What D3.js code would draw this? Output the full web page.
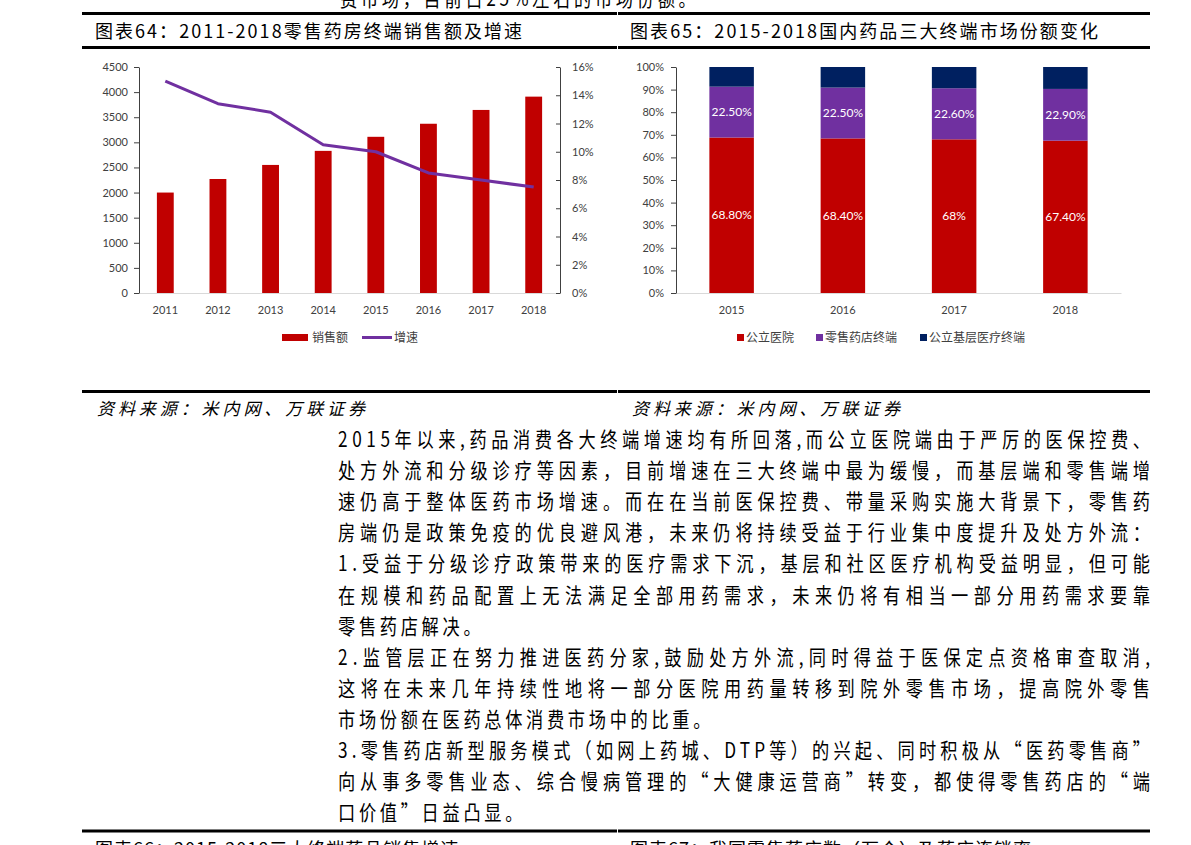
<!DOCTYPE html>
<html>
<head>
<meta charset="utf-8">
<script src="https://cdn.jsdelivr.net/npm/d3@7"></script>
<style>
  body { margin: 0; background: #fff; }
  svg { display: block; }
</style>
</head>
<body>
<script>
// Chart 64: retail pharmacy sales and growth
const salesYears = ["2011", "2012", "2013", "2014", "2015", "2016", "2017", "2018"];
const salesValues = [2000, 2270, 2550, 2830, 3110, 3370, 3645, 3910];
const growthValues = [0.15, 0.134, 0.128, 0.105, 0.1, 0.085, 0.08, 0.075];
const salesTicks = [0, 500, 1000, 1500, 2000, 2500, 3000, 3500, 4000, 4500];
const growthTicks = [0, 0.02, 0.04, 0.06, 0.08, 0.1, 0.12, 0.14, 0.16];

// Chart 65: market share of the three terminals
const shareYears = ["2015", "2016", "2017", "2018"];
const publicHospital = [68.8, 68.4, 68, 67.4];
const retailPharmacy = [22.5, 22.5, 22.6, 22.9];
const primaryCare = [8.7, 9.1, 9.4, 9.7];
const shareTicks = [0, 10, 20, 30, 40, 50, 60, 70, 80, 90, 100];
const shareNames = ["公立医院", "零售药店终端", "公立基层医疗终端"];

// Page text
const topTitles = ["图表64：2011-2018零售药房终端销售额及增速", "图表65：2015-2018国内药品三大终端市场份额变化"];
const bottomTitles = ["图表66：2015-2018三大终端药品销售增速", "图表67：我国零售药店数（万个）及药店连锁率"];
const sourceText = "资料来源：米内网、万联证券";
const cutLine = "费市场，目前占25%左右的市场份额。";
const bodyLines = [
  { text: "2015年以来,药品消费各大终端增速均有所回落,而公立医院端由于严厉的医保控费、", full: true },
  { text: "处方外流和分级诊疗等因素，目前增速在三大终端中最为缓慢，而基层端和零售端增", full: true },
  { text: "速仍高于整体医药市场增速。而在在当前医保控费、带量采购实施大背景下，零售药", full: true },
  { text: "房端仍是政策免疫的优良避风港，未来仍将持续受益于行业集中度提升及处方外流：", full: true },
  { text: "1.受益于分级诊疗政策带来的医疗需求下沉，基层和社区医疗机构受益明显，但可能", full: true },
  { text: "在规模和药品配置上无法满足全部用药需求，未来仍将有相当一部分用药需求要靠", full: true },
  { text: "零售药店解决。", full: false },
  { text: "2.监管层正在努力推进医药分家,鼓励处方外流,同时得益于医保定点资格审查取消,", full: true },
  { text: "这将在未来几年持续性地将一部分医院用药量转移到院外零售市场，提高院外零售", full: true },
  { text: "市场份额在医药总体消费市场中的比重。", full: false },
  { text: "3.零售药店新型服务模式（如网上药城、DTP等）的兴起、同时积极从“医药零售商”", full: true },
  { text: "向从事多零售业态、综合慢病管理的“大健康运营商”转变，都使得零售药店的“端", full: true },
  { text: "口价值”日益凸显。", full: false },
];

const numFont = "Lato, 'Noto Sans CJK SC', sans-serif";
const cjkFont = "'Noto Sans CJK SC', sans-serif";
const red = "#C00000", purple = "#7030A0", navy = "#002060";
const axisColor = "#404040", gridGrey = "#D9D9D9";

const svg = d3.select("body").append("svg").attr("width", 1191).attr("height", 845);

// Horizontal rules of the page table (split in two halves)
[12, 46, 390, 829.5].forEach((y) => {
  svg.append("rect").attr("x", 82).attr("y", y).attr("width", 535).attr("height", 3).attr("fill", "#000");
  svg.append("rect").attr("x", 618).attr("y", y).attr("width", 532).attr("height", 3).attr("fill", "#000");
});

// Chart titles
const titleX = [95, 630];
const titleLen = [427, 468];
topTitles.forEach((t, i) => {
  svg.append("text")
    .attr("x", titleX[i]).attr("y", 38)
    .attr("font-family", cjkFont).attr("font-size", 18)
    .attr("textLength", titleLen[i]).attr("lengthAdjust", "spacing")
    .text(t);
});
bottomTitles.forEach((t, i) => {
  svg.append("text")
    .attr("x", titleX[i]).attr("y", 856)
    .attr("font-family", cjkFont).attr("font-size", 18)
    .attr("letter-spacing", 1)
    .text(t);
});

// Source notes
titleX.forEach((x) => {
  svg.append("text")
    .attr("x", x + 2).attr("y", 415)
    .attr("font-family", cjkFont).attr("font-size", 17)
    .attr("font-style", "italic")
    .attr("textLength", 268).attr("lengthAdjust", "spacing")
    .text(sourceText);
});

// ---------- Chart 64 ----------
const c1 = svg.append("g");
const x1 = d3.scaleBand().domain(salesYears).range([139, 560]).paddingInner(0.68).paddingOuter(0.34);
const y1 = d3.scaleLinear().domain([0, 4500]).range([293, 67]);
const y1r = d3.scaleLinear().domain([0, 0.16]).range([293, 67]);

// Bars for sales
c1.selectAll(".bar")
  .data(salesValues)
  .enter()
  .append("rect")
  .attr("class", "bar")
  .attr("x", (d, i) => x1(salesYears[i]))
  .attr("y", (d) => y1(d))
  .attr("width", x1.bandwidth())
  .attr("height", (d) => y1(0) - y1(d))
  .attr("fill", red);

// x axis
const xa1 = c1.append("g")
  .attr("transform", "translate(0,293)")
  .call(d3.axisBottom(x1).tickSize(0).tickPadding(13).tickSizeOuter(0));

// left axis
const ya1 = c1.append("g")
  .attr("transform", "translate(139,0)")
  .call(d3.axisLeft(y1).tickValues(salesTicks).tickSize(5).tickPadding(6).tickSizeOuter(0).tickFormat(d3.format("d")));

// right axis, ticks pointing inward
const ya1r = c1.append("g")
  .attr("transform", "translate(560,0)")
  .call(d3.axisRight(y1r).tickValues(growthTicks).tickSizeInner(-4).tickSizeOuter(0).tickPadding(12).tickFormat(d3.format(".0%")));

// Growth line
const line1 = d3.line()
  .x((d, i) => x1(salesYears[i]) + x1.bandwidth() / 2)
  .y((d) => y1r(d));
c1.append("path")
  .datum(growthValues)
  .attr("d", line1)
  .attr("fill", "none")
  .attr("stroke", purple)
  .attr("stroke-width", 3)
  .attr("stroke-linejoin", "round");

// Legend
c1.append("rect").attr("x", 282).attr("y", 334).attr("width", 26).attr("height", 7).attr("fill", red);
c1.append("text").attr("x", 312).attr("y", 342).text("销售额");
c1.append("line").attr("x1", 362).attr("x2", 392).attr("y1", 337.5).attr("y2", 337.5)
  .attr("stroke", purple).attr("stroke-width", 3);
c1.append("text").attr("x", 394).attr("y", 342).text("增速");

// ---------- Chart 65 ----------
const c2 = svg.append("g");
const x2 = d3.scaleBand().domain(shareYears).range([676, 1121]).paddingInner(0.6).paddingOuter(0.3);
const y2 = d3.scaleLinear().domain([0, 100]).range([293, 67]);

const stackRows = shareYears.map((yr, i) => ({
  year: yr,
  a: publicHospital[i],
  b: retailPharmacy[i],
  c: primaryCare[i],
}));
const stack = d3.stack().keys(["a", "b", "c"])(stackRows);
const shareColors = [red, purple, navy];

const layers = c2.selectAll(".layer")
  .data(stack)
  .enter()
  .append("g")
  .attr("class", "layer")
  .attr("fill", (d, i) => shareColors[i]);

layers.selectAll("rect")
  .data((d) => d)
  .enter()
  .append("rect")
  .attr("x", (d) => x2(d.data.year))
  .attr("y", (d) => y2(Math.min(d[1], 100)))
  .attr("width", x2.bandwidth())
  .attr("height", (d) => y2(d[0]) - y2(Math.min(d[1], 100)));

// Data labels for the two lower segments
const pct = (v) => (v % 1 === 0 ? v : v.toFixed(2)) + "%";
stack.slice(0, 2).forEach((layer) => {
  c2.selectAll(null)
    .data(layer)
    .enter()
    .append("text")
    .attr("x", (d) => x2(d.data.year) + x2.bandwidth() / 2)
    .attr("y", (d) => y2((d[0] + d[1]) / 2) + 4)
    .attr("text-anchor", "middle")
    .attr("fill", "#fff")
    .attr("font-family", numFont)
    .attr("font-size", 12)
    .text((d) => pct(d[1] - d[0]));
});

const xa2 = c2.append("g")
  .attr("transform", "translate(0,293)")
  .call(d3.axisBottom(x2).tickSize(0).tickPadding(13).tickSizeOuter(0));

const ya2 = c2.append("g")
  .attr("transform", "translate(676,0)")
  .call(d3.axisLeft(y2).tickValues(shareTicks).tickSize(5).tickPadding(7).tickSizeOuter(0).tickFormat((d) => d + "%"));

// Legend
const legendX = [737, 816, 920];
shareNames.forEach((name, i) => {
  c2.append("rect").attr("x", legendX[i]).attr("y", 334).attr("width", 7).attr("height", 7).attr("fill", shareColors[i]);
  c2.append("text").attr("x", legendX[i] + 9).attr("y", 342).text(name);
});

// Axis styling
[xa1, xa2].forEach((a) => {
  a.select(".domain").attr("stroke", gridGrey);
});
[ya1, ya1r, ya2].forEach((a) => {
  a.select(".domain").attr("stroke", axisColor);
  a.selectAll(".tick line").attr("stroke", axisColor);
});
[xa1, xa2, ya1, ya1r, ya2].forEach((a) => {
  a.selectAll("text").attr("fill", axisColor).attr("font-size", 11).attr("font-family", numFont);
});
svg.selectAll("g > text:not([font-size])")
  .attr("font-family", cjkFont).attr("font-size", 12).attr("fill", axisColor);

// ---------- Body text ----------
const bodyX = 338, bodyRight = 1150, squeeze = 0.82;
const bodyBase = 447, lineStep = 31.1, lastSpacing = 4.5;

// cut-off line at the top of the page
svg.append("g")
  .attr("transform", `translate(340,6) scale(${squeeze},1)`)
  .append("text")
  .attr("font-family", cjkFont).attr("font-size", 21)
  .attr("letter-spacing", lastSpacing)
  .text(cutLine);

bodyLines.forEach((d, i) => {
  const t = svg.append("g")
    .attr("transform", `translate(${bodyX},${bodyBase + i * lineStep}) scale(${squeeze},1)`)
    .append("text")
    .attr("font-family", cjkFont)
    .attr("font-size", 21)
    .attr("fill", "#000")
    .text(d.text);
  if (d.full) {
    t.attr("textLength", (bodyRight - bodyX) / squeeze).attr("lengthAdjust", "spacing");
  } else {
    t.attr("letter-spacing", lastSpacing);
  }
});
</script>
</body>
</html>
